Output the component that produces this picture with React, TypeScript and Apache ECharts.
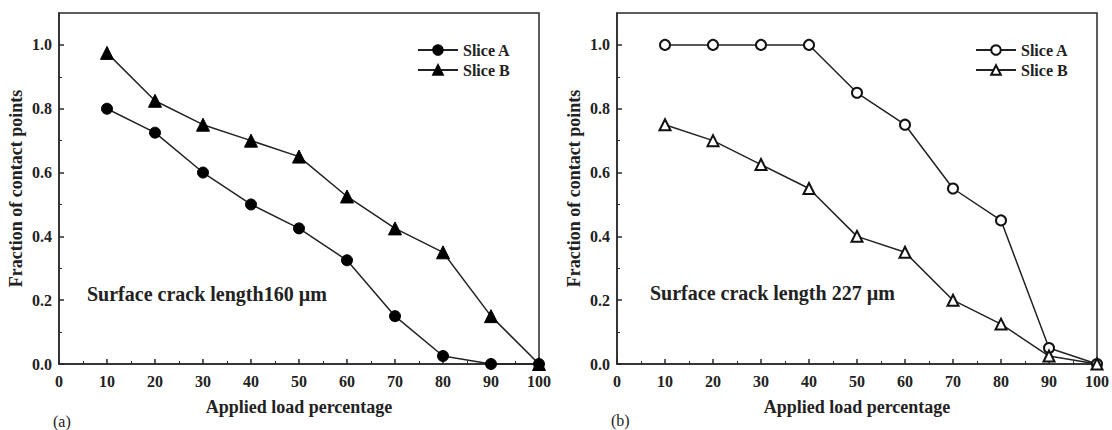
import React, { useEffect, useRef } from "react";
import * as echarts from "echarts";

const loads = [10, 20, 30, 40, 50, 60, 70, 80, 90, 100];
const aSliceA = [0.8, 0.725, 0.6, 0.5, 0.425, 0.325, 0.15, 0.025, 0.0, 0.0];
const aSliceB = [0.975, 0.825, 0.75, 0.7, 0.65, 0.525, 0.425, 0.35, 0.15, 0.0];
const bSliceA = [1.0, 1.0, 1.0, 1.0, 0.85, 0.75, 0.55, 0.45, 0.05, 0.0];
const bSliceB = [0.75, 0.7, 0.625, 0.55, 0.4, 0.35, 0.2, 0.125, 0.025, 0.0];
const yTicks = [0, 0.2, 0.4, 0.6, 0.8, 1.0];
const seriesNames = ["Slice A", "Slice B"];
const notes = ["Surface crack length160 µm", "Surface crack length 227 µm"];
const panelLabels = ["(a)", "(b)"];

const FONT = "'Liberation Serif', 'Times New Roman', serif";
const AX = "#2a2a2a";

function pairs(ys: number[]) {
  return loads.map((x, i) => [x, ys[i]]);
}

function axisLine() {
  return { show: true, onZero: false, lineStyle: { color: AX, width: 1.5 } };
}
function majorTick(custom?: number[]) {
  const t: any = { show: true, inside: true, length: 5, lineStyle: { color: AX, width: 1.5 } };
  if (custom) t.customValues = custom.slice();
  return t;
}
function minorTick() {
  return { show: true, splitNumber: 2, length: 3 };
}

export default function App() {
  const ref = useRef<HTMLDivElement>(null);
  useEffect(() => {
    if (!ref.current) return;
    const chart = echarts.init(ref.current, undefined, { renderer: "svg" });
    const grids = [
      { show: true, borderColor: AX, borderWidth: 1.5, left: 59, top: 13, width: 480, height: 351 },
      { show: true, borderColor: AX, borderWidth: 1.5, left: 617, top: 13, width: 480, height: 351 },
    ];
    const xAxes: any[] = [];
    const yAxes: any[] = [];
    grids.forEach((_, g) => {
      xAxes.push({
        gridIndex: g,
        type: "value",
        min: 0,
        max: 100,
        interval: 10,
        position: "bottom",
        axisLine: axisLine(),
        axisTick: majorTick(),
        minorTick: minorTick(),
        splitLine: { show: false },
        name: "Applied load percentage",
        nameLocation: "middle",
        nameGap: 34,
        nameTextStyle: { fontFamily: FONT, fontWeight: "bold", fontSize: 18, color: "#222" },
        axisLabel: { show: true, margin: 9, fontFamily: FONT, fontWeight: "bold", fontSize: 16, color: "#222" },
      });
      yAxes.push({
        gridIndex: g,
        type: "value",
        min: 0,
        max: 1.1,
        interval: 0.2,
        position: "left",
        axisLine: axisLine(),
        axisTick: majorTick(yTicks),
        minorTick: minorTick(),
        splitLine: { show: false },
        name: "Fraction of contact points",
        nameLocation: "middle",
        nameGap: 34,
        nameTextStyle: { fontFamily: FONT, fontWeight: "bold", fontSize: 18, color: "#222" },
        axisLabel: {
          show: true,
          margin: 7,
          fontFamily: FONT,
          fontWeight: "bold",
          fontSize: 16,
          color: "#222",
          customValues: yTicks.slice(),
          formatter: (v: number) => v.toFixed(1),
        },
      });
    });

    const mk = (
      name: string,
      g: number,
      ys: number[],
      symbol: string,
      size: number,
      filled: boolean
    ) => ({
      name,
      type: "line",
      xAxisIndex: g,
      yAxisIndex: g,
      data: pairs(ys),
      symbol,
      symbolSize: size,
      showAllSymbol: true,
      lineStyle: { color: "#222", width: 1.5 },
      itemStyle: filled
        ? { color: "#000", borderColor: "#000", borderWidth: 1 }
        : { color: "#fff", borderColor: "#111", borderWidth: 2 },
    });

    const series = [
      mk("a:" + seriesNames[0], 0, aSliceA, "circle", 11, true),
      mk("a:" + seriesNames[1], 0, aSliceB, "triangle", 13, true),
      mk("b:" + seriesNames[0], 1, bSliceA, "circle", 10, false),
      mk("b:" + seriesNames[1], 1, bSliceB, "triangle", 11, false),
    ];

    const legend = (left: number, data: string[]) => ({
      orient: "vertical",
      left,
      top: 37,
      itemWidth: 40,
      itemHeight: 12,
      itemGap: 4,
      selectedMode: false,
      data,
      formatter: (n: string) => n.slice(2),
      textStyle: { fontFamily: FONT, fontWeight: "bold", fontSize: 16, color: "#222" },
    });

    chart.setOption({
      animation: false,
      grid: grids,
      xAxis: xAxes,
      yAxis: yAxes,
      legend: [
        legend(412, ["a:Slice A", "a:Slice B"]),
        legend(970, ["b:Slice A", "b:Slice B"]),
      ],
      graphic: [
        {
          type: "text",
          left: 87,
          top: 284,
          style: { text: notes[0], fontFamily: FONT, fontWeight: "bold", fontSize: 20, fill: "#222" },
        },
        {
          type: "text",
          left: 650,
          top: 283,
          style: { text: notes[1], fontFamily: FONT, fontWeight: "bold", fontSize: 20, fill: "#222" },
        },
        {
          type: "text",
          left: 53,
          top: 413,
          style: { text: panelLabels[0], fontFamily: FONT, fontSize: 16, fill: "#222" },
        },
        {
          type: "text",
          left: 611,
          top: 412,
          style: { text: panelLabels[1], fontFamily: FONT, fontSize: 16, fill: "#222" },
        },
      ],
      series,
    });
    return () => chart.dispose();
  }, []);
  return (
    <div
      ref={ref}
      style={{ position: "fixed", left: 0, top: 0, width: 1112, height: 430, background: "#fff" }}
    />
  );
}
